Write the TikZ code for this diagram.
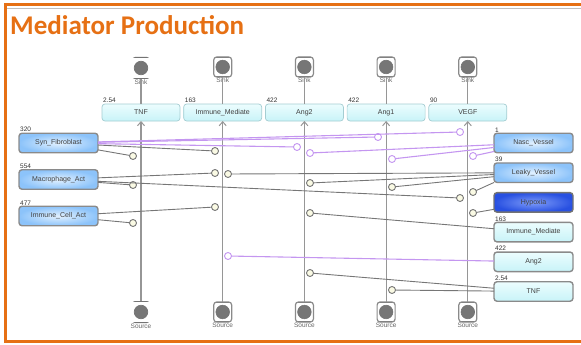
\documentclass[tikz,border=0pt]{standalone}
\usepackage{fontspec}
\setmainfont{Liberation Sans}
\newfontfamily\titlefont{Carlito}
\usepackage{xcolor}
\usetikzlibrary{positioning, arrows.meta, shapes.geometric}

\definecolor{frameorange}{RGB}{230,112,20}
\definecolor{linegray}{RGB}{118,118,118}
\definecolor{fluxgray}{RGB}{150,150,150}
\definecolor{modpurple}{RGB}{196,150,240}
\definecolor{boxedge}{RGB}{138,138,138}
\definecolor{cyanedge}{RGB}{165,205,210}
\definecolor{cyanlight}{RGB}{236,253,254}
\definecolor{cyandark}{RGB}{200,243,248}
\definecolor{celllight}{RGB}{226,241,255}
\definecolor{celldark}{RGB}{140,195,250}
\definecolor{hypolight}{RGB}{125,155,248}
\definecolor{hypodark}{RGB}{40,80,225}
\definecolor{poolgray}{RGB}{118,118,118}
\definecolor{modfill}{RGB}{250,250,228}

\begin{document}
\begin{tikzpicture}[
    x=1pt, y=-1pt,
    node distance=10.2pt and 3.7pt,
    molbox/.style={rectangle, rounded corners=3pt, draw=cyanedge, line width=0.7pt, top color=cyanlight, bottom color=cyandark, minimum width=78pt, minimum height=17pt, inner sep=0pt, outer sep=0pt, font=\fontsize{7}{8}\selectfont, text=black!75},
    molcell/.style={molbox, draw=boxedge, line width=1.4pt, minimum width=79pt, minimum height=19.5pt},
    cellbox/.style={rectangle, rounded corners=3pt, draw=boxedge, line width=1.4pt, inner color=celllight, outer color=celldark, minimum width=79pt, minimum height=19.5pt, inner sep=0pt, outer sep=0pt, font=\fontsize{7}{8}\selectfont, text=black!75},
    hypobox/.style={cellbox, draw=black!55, inner color=hypolight, outer color=hypodark},
    val/.style={anchor=south west, inner sep=1pt, font=\fontsize{6.5}{7}\selectfont, text=black!80},
    lbl/.style={inner sep=0.8pt, font=\fontsize{6.5}{7}\selectfont, text=black!60},
    pool/.style={rectangle, rounded corners=3pt, draw=boxedge, line width=1.2pt, minimum width=18pt, minimum height=20pt, inner sep=0pt, outer sep=0pt,
        path picture={\filldraw[fill=poolgray, draw=black!55, line width=0.6pt] (path picture bounding box.center) circle (6.8pt);
            \draw[black!55, line width=2pt] (path picture bounding box.north west) -- (path picture bounding box.north east);
            \draw[black!55, line width=2pt] (path picture bounding box.south west) -- (path picture bounding box.south east);}},
    barpool/.style={pool, draw=none, minimum height=22pt},
    flux/.style={draw=fluxgray, line width=1.2pt},
    fluxarrow/.style={flux, -{Straight Barb[length=4pt, width=7pt, line width=1pt]}},
    modc/.style={circle, draw=linegray, fill=modfill, line width=0.9pt, minimum size=7pt, inner sep=0pt, outer sep=0pt},
    modcp/.style={modc, draw=modpurple, fill=white},
    modline/.style={draw=linegray, line width=0.9pt},
    modlinep/.style={draw=modpurple, line width=1.1pt}
]
\useasboundingbox (0,0) rectangle (581,345);

% frame and title
\draw[black!25, line width=1pt] (7,9) -- (581,9);
\draw[frameorange, line width=3pt] (581,5) -- (5,5) -- (5,341) -- (581,341);
\node[anchor=base west, inner sep=0pt, text=frameorange, font=\titlefont\bfseries\fontsize{27}{30}\selectfont] (title) at (10,35) {Mediator Production};

% top species
\node[molbox, label={[val]north west:2.54}] (tnf) at (141,112.5) {TNF};
\node[molbox, right=of tnf, label={[val]north west:163}] (immmed) {Immune\_Mediate};
\node[molbox, right=of immmed, label={[val]north west:422}] (angtwo) {Ang2};
\node[molbox, right=of angtwo, label={[val]north west:422}] (angone) {Ang1};
\node[molbox, right=of angone, label={[val]north west:90}] (vegf) {VEGF};

% sinks and sources
\node[barpool, above=25pt of tnf, label={[lbl]below:Sink}] (snka) {};
\node[pool, above=27pt of immmed, label={[lbl]below:Sink}] (snkb) {};
\node[pool, above=27pt of angtwo, label={[lbl]below:Sink}] (snkc) {};
\node[pool, above=27pt of angone, label={[lbl]below:Sink}] (snkd) {};
\node[pool, above=27pt of vegf, label={[lbl]below:Sink}] (snke) {};
\node[barpool, below=180pt of tnf, label={[lbl]below:Source}] (srca) {};
\node[pool, below=181pt of immmed, label={[lbl]below:Source}] (srcb) {};
\node[pool, below=181pt of angtwo, label={[lbl]below:Source}] (srcc) {};
\node[pool, below=181pt of angone, label={[lbl]below:Source}] (srcd) {};
\node[pool, below=181pt of vegf, label={[lbl]below:Source}] (srce) {};

\draw[flux] (snka) -- (tnf);
\draw[flux] (snkb) -- (immmed);
\draw[flux] (snkc) -- (angtwo);
\draw[flux] (snkd) -- (angone);
\draw[flux] (snke) -- (vegf);
\draw[fluxarrow] (srca) -- (tnf);
\draw[fluxarrow] (srcb) -- (immmed);
\draw[fluxarrow] (srcc) -- (angtwo);
\draw[fluxarrow] (srcd) -- (angone);
\draw[fluxarrow] (srce) -- (vegf);

% left cells
\node[cellbox, label={[val]north west:320}] (synfib) at (58.5,143) {Syn\_Fibroblast};
\node[cellbox, below=17pt of synfib, label={[val]north west:554}] (macro) {Macrophage\_Act};
\node[cellbox, below=17pt of macro, label={[val]north west:477}] (immcell) {Immune\_Cell\_Act};

% right column
\node[cellbox, label={[val]north west:1}] (nasc) at (533.5,143) {Nasc\_Vessel};
\node[cellbox, below=of nasc, label={[val]north west:39}] (leaky) {Leaky\_Vessel};
\node[hypobox, below=of leaky] (hypoxia) {Hypoxia};
\node[molcell, below=of hypoxia, label={[val]north west:163}] (immmedr) {Immune\_Mediate};
\node[molcell, below=of immmedr, label={[val]north west:422}] (angtwor) {Ang2};
\node[molcell, below=of angtwor, label={[val]north west:2.54}] (tnfr) {TNF};

% modifiers
\node[modc] (ma) at (133,156) {};
\node[modc] (mb) at (215,151) {};
\node[modc] (mc) at (215,173) {};
\node[modc] (md) at (133,185) {};
\node[modc] (me) at (460,198) {};
\node[modc] (mf) at (215,207) {};
\node[modc] (mg) at (133,223) {};
\node[modc] (mh) at (228,174) {};
\node[modc] (mi) at (310,183) {};
\node[modc] (mj) at (392,187) {};
\node[modc] (mk) at (473,192) {};
\node[modc] (ml) at (473,213) {};
\node[modc] (mm) at (310,213) {};
\node[modc] (mn) at (310,273) {};
\node[modc] (mo) at (392,290) {};
\node[modcp] (pa) at (297,147) {};
\node[modcp] (pb) at (378,137) {};
\node[modcp] (pc) at (460,132) {};
\node[modcp] (pd) at (310,153) {};
\node[modcp] (pe) at (392,159) {};
\node[modcp] (pf) at (473,156) {};
\node[modcp] (pg) at (228,256) {};

\draw[modline] (synfib) -- (ma);
\draw[modline] (synfib) -- (mb);
\draw[modline] (macro) -- (mc);
\draw[modline] (macro) -- (md);
\draw[modline] (macro) -- (me);
\draw[modline] (immcell) -- (mf);
\draw[modline] (immcell) -- (mg);
\draw[modline] (leaky) -- (mh);
\draw[modline] (leaky) -- (mi);
\draw[modline] (leaky) -- (mj);
\draw[modline] (leaky.south west) -- (mk);
\draw[modline] (hypoxia) -- (ml);
\draw[modline] (immmedr) -- (mm);
\draw[modline] (tnfr) -- (mn);
\draw[modline] (tnfr) -- (mo);
\draw[modlinep] (synfib) -- (pa);
\draw[modlinep] (synfib) -- (pb);
\draw[modlinep] (synfib) -- (pc);
\draw[modlinep] (nasc) -- (pd);
\draw[modlinep] (nasc) -- (pe);
\draw[modlinep] (nasc) -- (pf);
\draw[modlinep] (angtwor) -- (pg);
\end{tikzpicture}
\end{document}
